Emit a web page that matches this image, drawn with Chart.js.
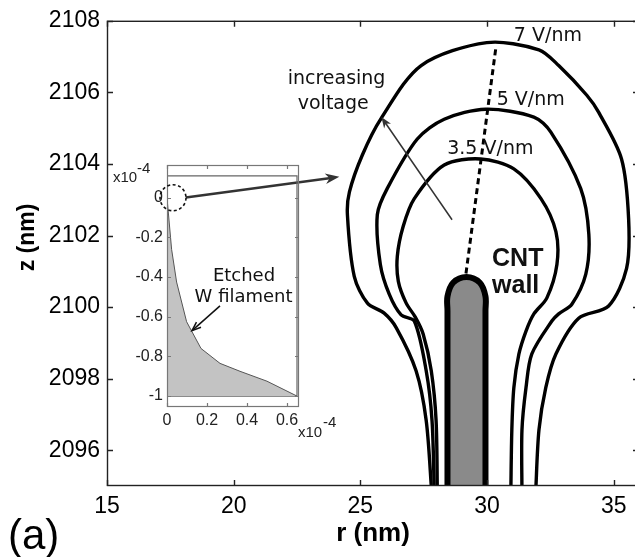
<!DOCTYPE html>
<html><head><meta charset="utf-8">
<script src="https://cdn.jsdelivr.net/npm/chart.js@4.4.0/dist/chart.umd.min.js"></script>
<style>
html,body{margin:0;padding:0;background:#fff;overflow:hidden;width:635px;height:557px}
#wrap{position:relative;width:635px;height:557px;overflow:hidden;background:#fff}
#main{position:absolute;left:0;top:0}
#inset{position:absolute;left:100px;top:140px}
</style></head><body>
<div id="wrap">
<canvas id="main" width="640" height="557"></canvas>
<canvas id="inset" width="240" height="310"></canvas>
</div>
<script>
// ---- main plot data (r in nm, z in nm) ----
const xTicks = [15, 20, 25, 30, 35];
const yTicks = [2096, 2098, 2100, 2102, 2104, 2106, 2108];
const contour7 = [[27.82,2094.8],[27.60,2096.83],[27.20,2098.22],[26.42,2099.42],[25.94,2099.83],[25.28,2100.11],[24.76,2100.86],[24.49,2102.58],[24.57,2103.22],[25.08,2104.25],[25.81,2105.26],[27.40,2106.75],[29.99,2107.39],[32.05,2107.19],[32.83,2106.75],[33.94,2105.92],[34.41,2105.44],[35.31,2104.14],[35.59,2102.47],[35.51,2101.08],[34.80,2100.03],[33.62,2099.69],[32.72,2098.69],[32.32,2097.75],[32.05,2096.56],[31.92,2094.8]];
const contour5 = [[27.92,2094.8],[27.83,2096.83],[27.60,2098.22],[27.13,2099.61],[26.61,2099.78],[26.14,2100.36],[25.79,2101.19],[25.67,2102.58],[26.06,2103.31],[27.24,2104.69],[28.31,2105.25],[29.95,2105.53],[31.85,2105.31],[32.52,2104.89],[33.70,2103.31],[34.02,2102.03],[33.90,2100.92],[33.35,2100.08],[32.83,2099.81],[32.56,2099.61],[31.77,2098.69],[31.54,2097.75],[31.38,2096.56],[31.38,2094.8]];
const contour35 = [[28.04,2094.8],[27.99,2096.83],[27.80,2098.22],[27.48,2099.25],[27.17,2099.72],[26.81,2100.11],[26.50,2100.72],[26.46,2101.42],[26.69,2102.25],[27.13,2103.03],[28.31,2103.97],[29.75,2104.14],[31.06,2103.86],[32.13,2103.03],[32.72,2102.11],[32.76,2101.19],[32.36,2100.25],[31.85,2099.81],[31.54,2099.33],[31.26,2098.69],[31.06,2097.75],[30.98,2096.56],[30.94,2094.8]];
const cntWall = [[28.44,2094.8],[28.44,2099.9],[28.44,2100.3],[28.66,2100.68],[29.19,2100.84],[29.72,2100.68],[29.94,2100.3],[29.94,2099.9],[29.94,2094.8]];
const apexLine = [[29.17,2100.94],[30.35,2107.25]];

// ---- inset data (x10^-4) ----
const insetXTicks = [0, 0.2, 0.4, 0.6];
const insetYTicks = [0, -0.2, -0.4, -0.6, -0.8, -1];
const filament = [[0,0],[0.023,-0.26],[0.048,-0.425],[0.098,-0.625],[0.17,-0.76],[0.265,-0.835],[0.365,-0.875],[0.5,-0.925],[0.65,-1.0]];
const insetFrame = [[0,0.11],[0.65,0.11],[0.65,-1],[0,-1]];

// ---- annotations ----
const mainLabels = [
  {text:'7 V/nm', r:31.06, z:2107.44, align:'left', font:'19px "DejaVu Sans"'},
  {text:'5 V/nm', r:30.38, z:2105.65, align:'left', font:'19px "DejaVu Sans"'},
  {text:'3.5 V/nm', r:28.43, z:2104.29, align:'left', font:'19px "DejaVu Sans"'},
  {text:'increasing', r:24.06, z:2106.23, align:'center', font:'19px "DejaVu Sans"'},
  {text:'voltage', r:23.93, z:2105.54, align:'center', font:'19px "DejaVu Sans"'},
  {text:'CNT', r:30.20, z:2101.14, align:'left', font:'bold 25px "Liberation Sans"'},
  {text:'wall', r:30.20, z:2100.39, align:'left', font:'bold 25px "Liberation Sans"'}
];
const mainArrows = [
  {from:[28.62,2102.44], to:[25.83,2105.31], width:1.5, head:11},
  {from:[18.11,2103.06], to:[24.17,2103.64], width:2.5, head:14}
];

const xy = a => a.map(p => ({x:p[0], y:p[1]}));
const fixTicks = arr => (s => { s.ticks = arr.map(v => ({value:v})); });

function frameTicksPlugin(color, width, len){
  return {id:'frameTicks', afterDatasetsDraw(chart){
    const {ctx, chartArea:a, scales:{x, y}} = chart;
    ctx.save();
    ctx.strokeStyle = color; ctx.lineWidth = width;
    ctx.strokeRect(a.left+0.5, a.top+0.5, a.right-a.left-1, a.bottom-a.top-1);
    ctx.beginPath();
    x.ticks.forEach(t => { const p = Math.round(x.getPixelForValue(t.value))+0.5;
      ctx.moveTo(p, a.bottom); ctx.lineTo(p, a.bottom-len);
      ctx.moveTo(p, a.top); ctx.lineTo(p, a.top+len); });
    y.ticks.forEach(t => { const p = Math.round(y.getPixelForValue(t.value))+0.5;
      ctx.moveTo(a.left, p); ctx.lineTo(a.left+len, p);
      ctx.moveTo(a.right, p); ctx.lineTo(a.right-len, p); });
    ctx.stroke();
    ctx.restore();
  }};
}

function drawArrow(ctx, x1, y1, x2, y2, w, head, color, filled){
  const ang = Math.atan2(y2-y1, x2-x1);
  ctx.save();
  ctx.strokeStyle = color; ctx.fillStyle = color; ctx.lineWidth = w;
  ctx.beginPath(); ctx.moveTo(x1,y1);
  ctx.lineTo(x2 - Math.cos(ang)*head*(filled?0.6:0.05), y2 - Math.sin(ang)*head*(filled?0.6:0.05)); ctx.stroke();
  const hw = head*0.38;
  ctx.beginPath();
  if (filled){
    ctx.moveTo(x2, y2);
    ctx.lineTo(x2 - Math.cos(ang)*head + Math.sin(ang)*hw, y2 - Math.sin(ang)*head - Math.cos(ang)*hw);
    ctx.lineTo(x2 - Math.cos(ang)*head*0.7, y2 - Math.sin(ang)*head*0.7);
    ctx.lineTo(x2 - Math.cos(ang)*head - Math.sin(ang)*hw, y2 - Math.sin(ang)*head + Math.cos(ang)*hw);
    ctx.closePath(); ctx.fill();
  } else {
    ctx.moveTo(x2 - Math.cos(ang)*head + Math.sin(ang)*hw, y2 - Math.sin(ang)*head - Math.cos(ang)*hw);
    ctx.lineTo(x2, y2);
    ctx.lineTo(x2 - Math.cos(ang)*head - Math.sin(ang)*hw, y2 - Math.sin(ang)*head + Math.cos(ang)*hw);
    ctx.stroke();
  }
  ctx.restore();
}

const mainAnno = {id:'mainAnno', afterDatasetsDraw(chart){
  const {ctx, scales:{x, y}} = chart;
  mainArrows.forEach(a => drawArrow(ctx, x.getPixelForValue(a.from[0]), y.getPixelForValue(a.from[1]),
    x.getPixelForValue(a.to[0]), y.getPixelForValue(a.to[1]), a.width, a.head, '#333', true));
  ctx.save();
  ctx.fillStyle = '#111'; ctx.textBaseline = 'alphabetic';
  mainLabels.forEach(l => { ctx.font = l.font; ctx.textAlign = l.align;
    ctx.fillText(l.text, x.getPixelForValue(l.r), y.getPixelForValue(l.z)); });
  ctx.font = '42px "Liberation Sans"'; ctx.textAlign = 'left'; ctx.fillStyle = '#000';
  ctx.fillText('(a)', 8, 549);
  ctx.restore();
}};

const lineDs = (data, extra) => Object.assign({data: xy(data), showLine:true, pointRadius:0,
  borderColor:'#000', borderWidth:3.4, tension:0.3, fill:false, clip:0}, extra||{});

new Chart(document.getElementById('main'), {
  type:'scatter',
  data:{datasets:[
    lineDs(contour7, {label:'7 V/nm'}),
    lineDs(contour5, {label:'5 V/nm'}),
    lineDs(contour35, {label:'3.5 V/nm'}),
    lineDs(cntWall, {label:'CNT wall', borderWidth:6, tension:0.35, fill:'start', backgroundColor:'#8a8a8a'}),
    lineDs(apexLine, {label:'apex', borderWidth:3, tension:0, borderDash:[6,4]})
  ]},
  options:{
    responsive:false, animation:false, devicePixelRatio:1,
    layout:{padding:{top:18, right:1, left:0, bottom:0}},
    plugins:{legend:{display:false}, tooltip:{enabled:false}},
    scales:{
      x:{type:'linear', min:15, max:36, afterBuildTicks:fixTicks(xTicks),
        afterFit:s => { s.height = 71; },
        grid:{display:false, drawTicks:false}, border:{display:false},
        ticks:{color:'#000', padding:7, font:{family:'"Liberation Sans"', size:23}, callback:v => String(v)},
        title:{display:true, text:'r (nm)', color:'#000', padding:{top:0, bottom:8},
          font:{family:'"Liberation Sans"', size:26, weight:'bold'}}},
      y:{type:'linear', min:2095, max:2108, afterBuildTicks:fixTicks(yTicks),
        afterFit:s => { s.width = 107; },
        grid:{display:false, drawTicks:false}, border:{display:false},
        ticks:{color:'#000', padding:7, font:{family:'"Liberation Sans"', size:23}, callback:v => String(v)},
        title:{display:true, text:'     z (nm)', color:'#000', padding:{top:14, bottom:0},
          font:{family:'"Liberation Sans"', size:23, weight:'bold'}}}
    }
  },
  plugins:[frameTicksPlugin('#222', 1.4, 6), mainAnno]
});

// ---- inset ----
const insetAnno = {id:'insetAnno', afterDatasetsDraw(chart){
  const {ctx, chartArea:a, scales:{x, y}} = chart;
  ctx.save();
  ctx.strokeStyle = '#111'; ctx.lineWidth = 1.6; ctx.setLineDash([3,2.5]);
  ctx.beginPath(); ctx.arc(x.getPixelForValue(0.03), y.getPixelForValue(0), 13, 0, Math.PI*2); ctx.stroke();
  ctx.setLineDash([]);
  ctx.fillStyle = '#222'; ctx.textBaseline = 'alphabetic'; ctx.textAlign = 'left';
  ctx.font = '15px "Liberation Sans"';
  ctx.fillText('x10', a.left-54, a.top+17);
  ctx.fillText('-4', a.left-30, a.top+8);
  ctx.fillText('x10', a.right-1, a.bottom+30);
  ctx.fillText('-4', a.right+24, a.bottom+20);
  ctx.fillStyle = '#111'; ctx.font = '18px "DejaVu Sans"'; ctx.textAlign = 'center';
  ctx.fillText('Etched', x.getPixelForValue(0.385), y.getPixelForValue(-0.42));
  ctx.fillText('W filament', x.getPixelForValue(0.383), y.getPixelForValue(-0.527));
  ctx.restore();
  drawArrow(ctx, x.getPixelForValue(0.265), y.getPixelForValue(-0.545),
    x.getPixelForValue(0.125), y.getPixelForValue(-0.67), 1.5, 9, '#111', false);
}};

new Chart(document.getElementById('inset'), {
  type:'scatter',
  data:{datasets:[
    {label:'W filament', data:xy(filament), showLine:true, pointRadius:0, borderColor:'#555',
      borderWidth:1, tension:0, fill:{value:-1}, backgroundColor:'#c3c3c3'},
    {label:'frame', data:xy(insetFrame), showLine:true, pointRadius:0, borderColor:'#666',
      borderWidth:1.2, tension:0, fill:false}
  ]},
  options:{
    responsive:false, animation:false, devicePixelRatio:1,
    layout:{padding:{top:25, right:41, left:0, bottom:0}},
    plugins:{legend:{display:false}, tooltip:{enabled:false}},
    scales:{
      x:{type:'linear', min:0, max:0.66, afterBuildTicks:fixTicks(insetXTicks),
        afterFit:s => { s.height = 43; },
        grid:{display:false, drawTicks:false}, border:{display:false},
        ticks:{color:'#222', padding:4, font:{family:'"Liberation Sans"', size:16}, callback:v => String(v)}},
      y:{type:'linear', min:-1.055, max:0.165, afterBuildTicks:fixTicks(insetYTicks),
        afterFit:s => { s.width = 67; },
        grid:{display:false, drawTicks:false}, border:{display:false},
        ticks:{color:'#222', padding:4, font:{family:'"Liberation Sans"', size:16}, callback:v => String(v)}}
    }
  },
  plugins:[frameTicksPlugin('#777', 1.2, 4), insetAnno]
});
</script>
</body></html>
